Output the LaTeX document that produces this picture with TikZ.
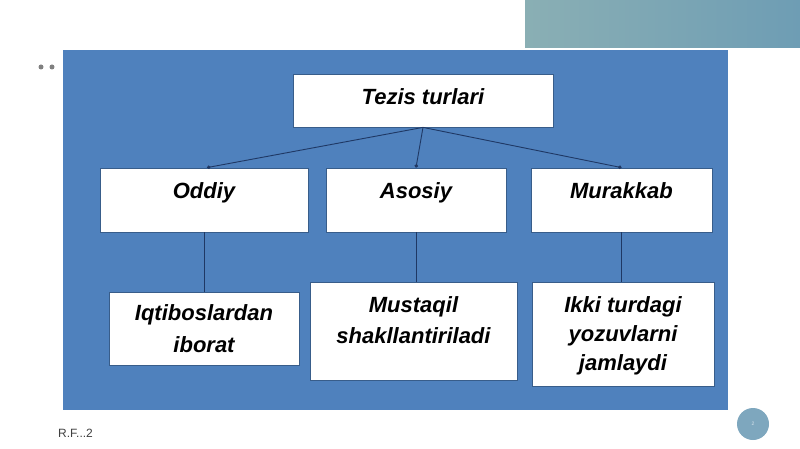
\documentclass[tikz,border=0pt]{standalone}
\usepackage{fontspec}
\setmainfont{Liberation Sans}
\usetikzlibrary{arrows.meta}

\definecolor{slideblue}{HTML}{4F81BD}
\definecolor{boxline}{HTML}{385D8A}
\definecolor{linkline}{HTML}{1F3864}
\definecolor{bandleft}{HTML}{8AAFB4}
\definecolor{bandright}{HTML}{6E9DB4}
\definecolor{pagedot}{HTML}{7EA7BE}

\begin{document}
\begin{tikzpicture}[x=1pt, y=-1pt,
    box/.style={draw=boxline, fill=white, line width=0.8pt},
    txt/.style={align=center, inner sep=0pt, anchor=base,
      font=\fontsize{22}{30}\selectfont\bfseries\itshape},
    link/.style={draw=linkline, line width=0.9pt}]
  \useasboundingbox (0,0) rectangle (800,449);

  % backdrop
  \shade[left color=bandleft, right color=bandright] (525,0) rectangle (800,48);
  \fill[slideblue] (63,50) rectangle (728,410);
  \fill[gray] (41,67) circle (2.5) (52,67) circle (2.5);

  % boxes
  \node[box, minimum width=260, minimum height=53] (T) at (423,100.5) {};
  \node[txt] (Tt) at (423,104.5) {Tezis turlari};

  \node[box, minimum width=208, minimum height=64] (O) at (204,200) {};
  \node[box, minimum width=180, minimum height=64] (A) at (416,200) {};
  \node[box, minimum width=181, minimum height=64] (M) at (621.5,200) {};
  \node[txt] (Ot) at (204,198) {Oddiy};
  \node[txt] (At) at (416,198) {Asosiy};
  \node[txt] (Mt) at (621.5,198) {Murakkab};

  \node[box, minimum width=190, minimum height=73] (I) at (204,328.5) {};
  \node[box, minimum width=207, minimum height=98] (S) at (413.5,331) {};
  \node[box, minimum width=182, minimum height=104] (K) at (623,334) {};
  % base is the last line here
  \node[txt, font=\fontsize{22}{32}\selectfont\bfseries\itshape] (It) at (204,352) {Iqtiboslardan\\iborat};
  \node[txt, font=\fontsize{22}{31}\selectfont\bfseries\itshape] (St) at (413.5,343) {Mustaqil\\shakllantiriladi};
  \node[txt, font=\fontsize{22}{29}\selectfont\bfseries\itshape] (Kt) at (623,370) {Ikki turdagi\\yozuvlarni\\jamlaydi};

  % links
  \draw[link, -{Circle[length=3.5pt]}] (T.south) -- ([xshift=3]O.north);
  \draw[link, -{Circle[length=3.5pt]}] (T.south) -- (A.north);
  \draw[link, -{Circle[length=3.5pt]}] (T.south) -- (M.north);

  \draw[link] (O.south) -- (I.north);
  \draw[link] (A.south) -- (A.south |- S.north);
  \draw[link] (M.south) -- (M.south |- K.north);

  % footer
  \node[anchor=base west, text=black!75, font=\fontsize{12}{14}\selectfont, inner sep=0pt] (F) at (58,437) {R.F...2};
  \fill[pagedot] (753,424) circle (16);
  \node[text=white!70!pagedot, font=\fontsize{5}{6}\selectfont] (P) at (753,424) {2};
\end{tikzpicture}
\end{document}
